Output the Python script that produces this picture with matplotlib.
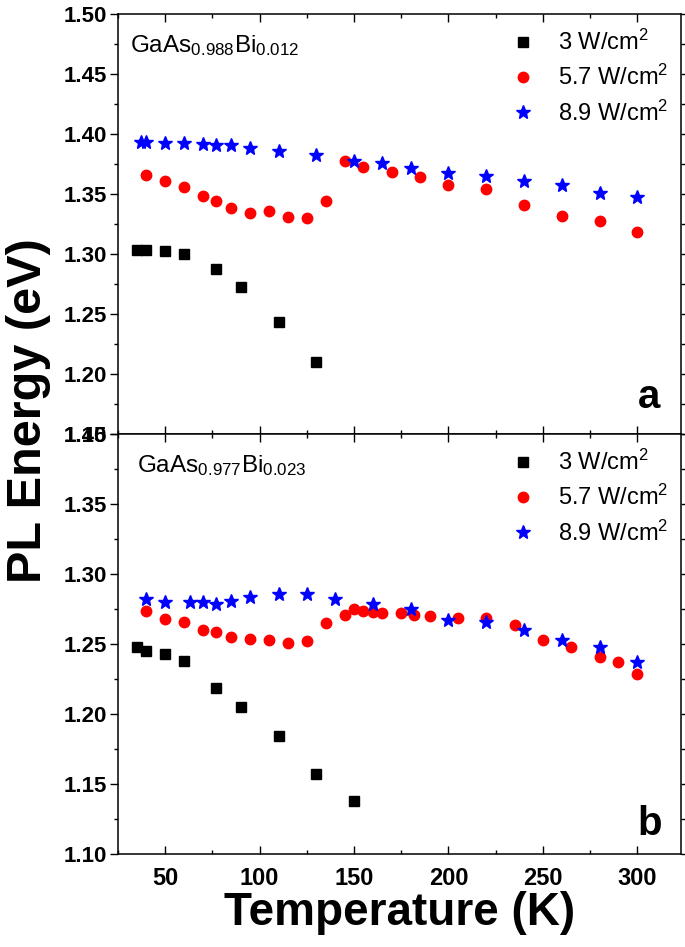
import matplotlib
matplotlib.use("Agg")
import matplotlib.pyplot as plt
from matplotlib.ticker import MultipleLocator, FixedLocator

plt.rcParams['font.family'] = ['Liberation Sans', 'DejaVu Sans']
plt.rcParams['mathtext.default'] = 'regular'

# ---------- Panel a: GaAs0.988Bi0.012 ----------
a_T_3 = [35, 40, 50, 60, 77, 90, 110, 130]
a_E_3 = [1.304, 1.304, 1.303, 1.300, 1.288, 1.273, 1.244, 1.210]

a_T_57 = [40, 50, 60, 70, 77, 85, 95, 105, 115, 125, 135, 145, 155, 170, 185,
          200, 220, 240, 260, 280, 300]
a_E_57 = [1.366, 1.361, 1.356, 1.349, 1.344, 1.339, 1.334, 1.336, 1.331, 1.330,
          1.344, 1.378, 1.373, 1.369, 1.364, 1.358, 1.354, 1.341, 1.332, 1.328, 1.319]

a_T_89 = [37, 40, 50, 60, 70, 77, 85, 95, 110, 130, 150, 165, 180, 200, 220,
          240, 260, 280, 300]
a_E_89 = [1.394, 1.394, 1.393, 1.393, 1.392, 1.391, 1.391, 1.389, 1.386, 1.383,
          1.378, 1.376, 1.372, 1.368, 1.365, 1.361, 1.358, 1.351, 1.348]

# ---------- Panel b: GaAs0.977Bi0.023 ----------
b_T_3 = [35, 40, 50, 60, 77, 90, 110, 130, 150]
b_E_3 = [1.248, 1.245, 1.243, 1.238, 1.219, 1.205, 1.184, 1.157, 1.138]

b_T_57 = [40, 50, 60, 70, 77, 85, 95, 105, 115, 125, 135, 145, 150, 155, 160,
          165, 175, 182, 190, 205, 220, 235, 250, 265, 280, 290, 300]
b_E_57 = [1.274, 1.268, 1.266, 1.260, 1.259, 1.255, 1.254, 1.253, 1.251, 1.252,
          1.265, 1.271, 1.275, 1.274, 1.273, 1.272, 1.272, 1.271, 1.270, 1.269,
          1.269, 1.264, 1.253, 1.248, 1.241, 1.237, 1.229]

b_T_89 = [40, 50, 63, 70, 77, 85, 95, 110, 125, 140, 160, 180, 200, 220, 240,
          260, 280, 300]
b_E_89 = [1.282, 1.280, 1.280, 1.280, 1.279, 1.281, 1.284, 1.286, 1.286, 1.282,
          1.279, 1.275, 1.267, 1.266, 1.260, 1.253, 1.248, 1.237]

legend_labels = ['3 W/cm$^2$', '5.7 W/cm$^2$', '8.9 W/cm$^2$']
x_ticks = [50, 100, 150, 200, 250, 300]
a_yticks = [1.15, 1.20, 1.25, 1.30, 1.35, 1.40, 1.45, 1.50]
b_yticks = [1.10, 1.15, 1.20, 1.25, 1.30, 1.35, 1.40]

W, H = 685, 947
fig = plt.figure(figsize=(W / 100, H / 100), dpi=100)

left = 118 / W
right = 680.7 / W
axw = right - left
ya_top = 1 - 14.3 / H
ymid = 1 - 434.3 / H
yb_bot = 1 - 854.0 / H

ax_a = fig.add_axes([left, ymid, axw, ya_top - ymid])
ax_b = fig.add_axes([left, yb_bot, axw, ymid - yb_bot])

def style(ax, yticks, ylim, show_x):
    ax.set_xlim(25, 323)
    ax.set_ylim(*ylim)
    ax.xaxis.set_major_locator(FixedLocator(x_ticks))
    ax.xaxis.set_minor_locator(MultipleLocator(25))
    ax.yaxis.set_major_locator(FixedLocator(yticks))
    ax.yaxis.set_minor_locator(MultipleLocator(0.025))
    ax.set_yticklabels([f"{v:.2f}" for v in yticks])
    ax.tick_params(axis='y', which='both', direction='out', left=True, right=True,
                   labelsize=16, pad=2, width=1.0)
    ax.tick_params(axis='y', which='major', length=6)
    ax.tick_params(axis='y', which='minor', length=3)
    ax.tick_params(axis='x', which='both', direction='in', top=True, bottom=True,
                   labelsize=17, pad=9, width=1.0, labelbottom=show_x)
    ax.tick_params(axis='x', which='major', length=6)
    ax.tick_params(axis='x', which='minor', length=3)
    for lab in ax.get_yticklabels() + ax.get_xticklabels():
        lab.set_fontweight('bold')
    for s in ax.spines.values():
        s.set_linewidth(1.1)

def draw(ax, T3, E3, T57, E57, T89, E89):
    ax.plot(T3, E3, 's', color='black', markersize=6.5, linestyle='none', label=legend_labels[0])
    ax.plot(T57, E57, 'o', color='#ff0000', markersize=7.5, linestyle='none', label=legend_labels[1])
    ax.plot(T89, E89, '*', color='#0000ff', markersize=10, linestyle='none', label=legend_labels[2])
    ax.legend(loc='upper right', bbox_to_anchor=(0.995, 0.985), frameon=False,
              fontsize=17, handlelength=1.0, handletextpad=1.0, labelspacing=0.42,
              borderaxespad=0.2, borderpad=0.2)

draw(ax_a, a_T_3, a_E_3, a_T_57, a_E_57, a_T_89, a_E_89)
draw(ax_b, b_T_3, b_E_3, b_T_57, b_E_57, b_T_89, b_E_89)
style(ax_a, a_yticks, (1.15, 1.50), False)
style(ax_b, b_yticks, (1.10, 1.40), True)

ax_a.text(0.022, 0.955, 'GaAs$_{0.988}$Bi$_{0.012}$', transform=ax_a.transAxes,
          fontsize=17.5, ha='left', va='top')
ax_b.text(0.033, 0.955, 'GaAs$_{0.977}$Bi$_{0.023}$', transform=ax_b.transAxes,
          fontsize=17.5, ha='left', va='top')

ax_a.text(0.963, 0.063, 'a', transform=ax_a.transAxes, fontsize=29,
          fontweight='bold', ha='right', va='baseline')
ax_b.text(0.967, 0.045, 'b', transform=ax_b.transAxes, fontsize=29,
          fontweight='bold', ha='right', va='baseline')

fig.text(29 / W, 1 - 411 / H, 'PL Energy (eV)', rotation=90, fontsize=35,
         fontweight='bold', ha='center', va='center')
fig.text(400 / W, 1 - 913 / H, 'Temperature (K)', fontsize=33,
         fontweight='bold', ha='center', va='center')

fig.savefig('out.png', dpi=100)
